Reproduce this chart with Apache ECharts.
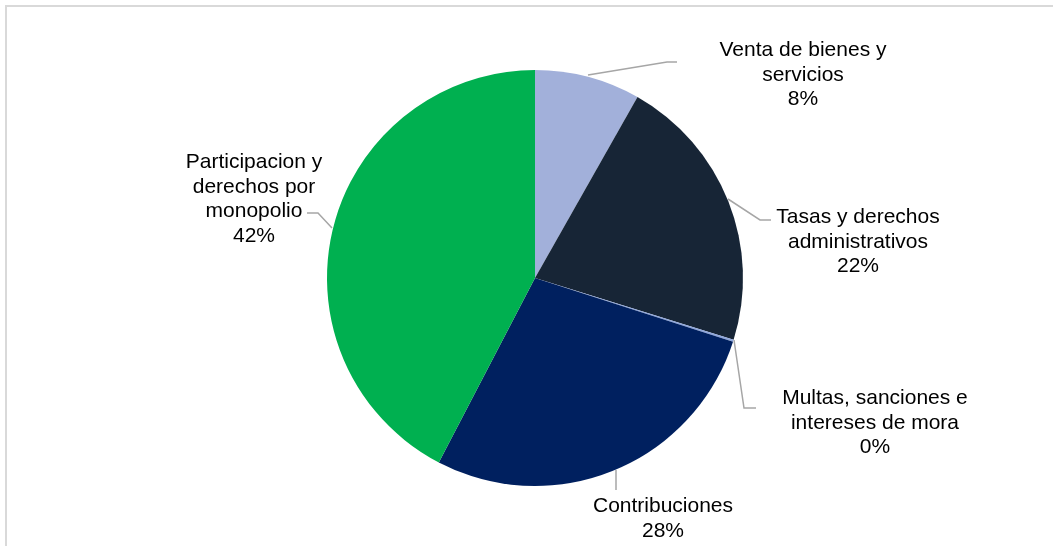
<!DOCTYPE html>
<html>
<head>
<meta charset="utf-8">
<script src="https://cdn.jsdelivr.net/npm/echarts@6/dist/echarts.min.js"></script>
<style>
  html, body { margin: 0; padding: 0; background: #fff; }
  #chart { width: 1053px; height: 546px; }
</style>
</head>
<body>
<div id="chart"></div>
<script>
  // categories and shares (percent of total)
  var categories = [
    'Venta de bienes y\nservicios',
    'Tasas y derechos\nadministrativos',
    'Multas, sanciones e\nintereses de mora',
    'Contribuciones',
    'Participacion y\nderechos por\nmonopolio'
  ];
  var values = [8.2, 21.6, 0.15, 27.7, 42.35];
  var colors = ['#A2B0DA', '#172536', '#8EA6DC', '#00205F', '#00B050'];

  // where each label sits (centre x, top y) and its leader line
  var labelPos = [
    { x: 803, y: 38, line: [[588, 75], [667, 62], [677, 62]] },
    { x: 858, y: 205, line: [[728, 199], [760, 220], [771, 220]] },
    { x: 875, y: 386, line: [[734, 340], [744, 408], [756, 408]] },
    { x: 663, y: 494, line: [[616, 470], [616, 490], [616, 490]] },
    { x: 254, y: 150, line: [[332, 228], [318, 213], [307, 213]] }
  ];

  var chart = echarts.init(document.getElementById('chart'));

  chart.setOption({
    animation: false,
    graphic: [
      {
        type: 'rect',
        shape: { x: 6, y: 6, width: 1060, height: 560 },
        style: { fill: 'none', stroke: '#D9D9D9', lineWidth: 2 }
      }
    ],
    series: [
      {
        type: 'pie',
        center: [535, 278],
        radius: 208,
        startAngle: 90,
        clockwise: true,
        percentPrecision: 0,
        avoidLabelOverlap: false,
        itemStyle: { borderWidth: 0 },
        label: {
          show: true,
          formatter: '{b}\n{d}%',
          fontFamily: 'Liberation Sans, Arial, sans-serif',
          fontSize: 21,
          lineHeight: 24.5,
          color: '#000',
          align: 'center'
        },
        labelLine: {
          show: true,
          lineStyle: { color: '#A6A6A6', width: 1.5 }
        },
        labelLayout: function (params) {
          var p = labelPos[params.dataIndex];
          return {
            x: p.x,
            y: p.y,
            align: 'center',
            verticalAlign: 'top',
            labelLinePoints: p.line
          };
        },
        data: categories.map(function (name, i) {
          return { name: name, value: values[i], itemStyle: { color: colors[i] } };
        })
      }
    ]
  });
</script>
</body>
</html>
